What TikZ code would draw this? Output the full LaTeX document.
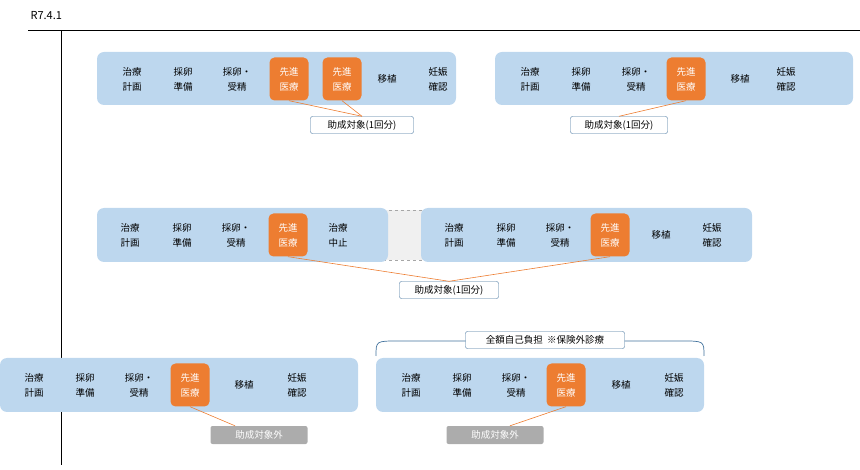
\documentclass[tikz,border=0pt]{standalone}
\usepackage{fontspec}
\setmainfont{Noto Sans CJK JP}
\begin{document}
\begin{tikzpicture}[x=1pt,y=-1pt,
  adv/.style={fill=advor,draw=none,rounded corners=5pt,minimum width=39pt,minimum height=43pt,text=white,font=\fontsize{9.5}{15}\selectfont,align=center,inner sep=0pt},
  itm/.style={font=\fontsize{9.5}{15}\selectfont,align=center,inner sep=0pt},
  lbl/.style={draw=labblue,fill=white,rounded corners=2pt,font=\fontsize{9.5}{11}\selectfont,minimum height=17pt,inner sep=2pt},
  glbl/.style={fill=gray!65,text=white,rounded corners=2pt,font=\fontsize{9.5}{11}\selectfont,minimum height=18pt,minimum width=97pt,inner sep=1pt},
  con/.style={draw=advor,line width=0.6pt}]
\definecolor{barblue}{HTML}{BDD7EE}
\definecolor{advor}{HTML}{ED7D31}
\definecolor{labblue}{HTML}{41719C}
\useasboundingbox (0,0) rectangle (860,470);
\node[anchor=west,font=\fontsize{11}{13}\selectfont] (title) at (27,16) {R7.4.1};
\coordinate (h1) at (28,31); \coordinate (h2) at (860,31);
\coordinate (v1) at (61,31); \coordinate (v2) at (61,465);
\draw[line width=1pt] (h1) -- (h2);
\draw[line width=1pt] (v1) -- (v2);
% Row 1 A
\fill[barblue,rounded corners=7pt] (97,52) rectangle (456,105);
\node[itm] (a1) at (132,79) {治療\\計画};
\node[itm] (a2) at (183,79) {採卵\\準備};
\node[itm] (a3) at (237,79) {採卵・\\受精};
\node[adv] (a4) at (289,79) {先進\\医療};
\node[adv] (a5) at (342,79) {先進\\医療};
\node[itm] (a6) at (387,79) {移植};
\node[itm] (a7) at (438,79) {妊娠\\確認};
\node[lbl,minimum width=103pt] (la) at (362,125) {助成対象(1回分)};
\draw[con] (a4.south) -- (la.north);
\draw[con] (a5.south) -- (la.north);
% Row1 B
\fill[barblue,rounded corners=7pt] (495,52) rectangle (853,105);
\node[itm] (b1) at (530,79) {治療\\計画};
\node[itm] (b2) at (581,79) {採卵\\準備};
\node[itm] (b3) at (636,79) {採卵・\\受精};
\node[adv] (b4) at (686,79) {先進\\医療};
\node[itm] (b5) at (740,79) {移植};
\node[itm] (b6) at (786,79) {妊娠\\確認};
\node[lbl,minimum width=97pt] (lb) at (619,125) {助成対象(1回分)};
\draw[con] (b4.south) -- (lb.north);
% Row2
\fill[gray!12] (365,210) rectangle (430,260);
\draw[gray!70,dashed,line width=0.4pt] (365,210) -- (430,210) (365,260) -- (430,260);
\fill[barblue,rounded corners=7pt] (97,208) rectangle (388,262);
\node[itm] (c1) at (130,235) {治療\\計画};
\node[itm] (c2) at (182,235) {採卵\\準備};
\node[itm] (c3) at (236,235) {採卵・\\受精};
\node[adv] (c4) at (288,235) {先進\\医療};
\node[itm] (c5) at (338,235) {治療\\中止};
\fill[barblue,rounded corners=7pt] (421,208) rectangle (752,262);
\node[itm] (d1) at (454,235) {治療\\計画};
\node[itm] (d2) at (506,235) {採卵\\準備};
\node[itm] (d3) at (560,235) {採卵・\\受精};
\node[adv] (d4) at (610,235) {先進\\医療};
\node[itm] (d5) at (661,235) {移植};
\node[itm] (d6) at (712,235) {妊娠\\確認};
\node[lbl,minimum width=99pt] (lc) at (449,290) {助成対象(1回分)};
\draw[con] (c4.south) -- (lc.north);
\draw[con] (d4.south) -- (lc.north);
% Row3
\fill[barblue,rounded corners=7pt] (0,358) rectangle (358,412);
\node[itm] (e1) at (34,385) {治療\\計画};
\node[itm] (e2) at (85,385) {採卵\\準備};
\node[itm] (e3) at (139,385) {採卵・\\受精};
\node[adv] (e4) at (190,385) {先進\\医療};
\node[itm] (e5) at (244,385) {移植};
\node[itm] (e6) at (297,385) {妊娠\\確認};
\node[glbl] (le) at (259,435) {助成対象外};
\coordinate (let) at ([xshift=-24pt]le.north);
\draw[con] (e4.south) -- (let);
\fill[barblue,rounded corners=7pt] (376,358) rectangle (704,412);
\node[itm] (f1) at (411,385) {治療\\計画};
\node[itm] (f2) at (462,385) {採卵\\準備};
\node[itm] (f3) at (516,385) {採卵・\\受精};
\node[adv] (f4) at (566,385) {先進\\医療};
\node[itm] (f5) at (621,385) {移植};
\node[itm] (f6) at (674,385) {妊娠\\確認};
\node[glbl] (lf) at (495,435) {助成対象外};
\coordinate (lft) at ([xshift=15pt]lf.north);
\draw[con] (f4.south) -- (lft);
\coordinate (br1) at (376,356); \coordinate (br2) at (704,356);
\draw[labblue,line width=0.7pt] (br1) .. controls (376,341) .. (398,341) -- (682,341) .. controls (704,341) .. (br2);
\node[lbl,minimum width=159pt] (lg) at (545,340) {全額自己負担\ \ ※保険外診療};
\end{tikzpicture}
\end{document}
